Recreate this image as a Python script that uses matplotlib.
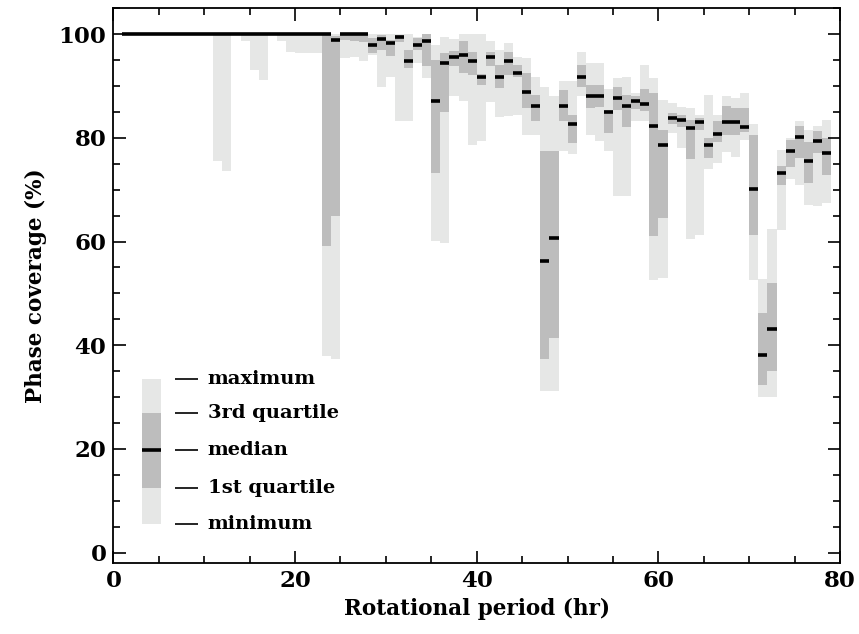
import matplotlib
matplotlib.use("Agg")
import matplotlib.pyplot as plt
from matplotlib.patches import Rectangle
from matplotlib.ticker import MultipleLocator
import numpy as np

# rotational period bins (hr), left edges, width 1 hr
period = np.arange(1, 79)

# phase coverage statistics per bin (%)
p_min = [100, 100, 100, 100, 100, 100, 100, 100, 100, 100,
         75.6, 73.7, 100, 98.7, 93.0, 91.1, 100, 98.7, 96.6, 96.4,
         96.4, 96.4, 37.9, 37.3, 95.4, 95.6, 94.9, 96.0, 89.9, 91.8,
         83.2, 83.3, 94.4, 91.5, 60.1, 59.7, 88.0, 87.2, 78.7, 79.3,
         87.0, 84.0, 84.3, 84.5, 80.5, 80.5, 31.2, 31.2, 77.4, 76.8,
         88.0, 80.5, 79.3, 77.4, 68.7, 68.7, 83.2, 83.2, 52.5, 53.0,
         80.9, 78.0, 60.4, 61.3, 73.9, 75.1, 77.2, 76.4, 79.6, 52.5,
         30.0, 30.0, 62.3, 72.0, 71.0, 67.1, 66.8, 67.4]
p_q1 = [100, 100, 100, 100, 100, 100, 100, 100, 100, 100,
        100, 100, 100, 100, 100, 100, 100, 100, 100, 100,
        100, 100, 59.2, 64.9, 98.8, 98.6, 98.5, 96.3, 97.0, 95.7,
        98.5, 93.5, 97.0, 93.8, 73.2, 85.0, 93.8, 92.5, 92.1, 90.2,
        93.8, 89.6, 92.1, 91.8, 85.8, 83.2, 37.3, 41.4, 83.2, 79.0,
        89.9, 85.7, 86.0, 81.0, 85.4, 82.0, 85.5, 85.1, 61.1, 64.6,
        82.7, 82.0, 75.9, 81.5, 76.2, 79.2, 80.5, 80.6, 81.2, 61.2,
        32.3, 35.0, 71.0, 74.3, 76.1, 71.3, 77.0, 72.9]
p_med = [100, 100, 100, 100, 100, 100, 100, 100, 100, 100,
         100, 100, 100, 100, 100, 100, 100, 100, 100, 100,
         100, 100, 100, 98.9, 100, 100, 100, 97.9, 99.0, 98.3,
         99.4, 94.9, 98.0, 98.7, 87.2, 94.4, 95.6, 96.0, 94.9, 91.7,
         95.6, 91.7, 94.9, 92.6, 88.8, 86.1, 56.2, 60.7, 86.1, 82.7,
         91.8, 88.0, 88.0, 85.0, 87.7, 86.2, 87.2, 86.5, 82.3, 78.6,
         83.9, 83.4, 81.9, 83.0, 78.6, 80.8, 83.1, 83.1, 82.0, 70.2,
         38.2, 43.2, 73.2, 77.4, 80.1, 75.5, 79.3, 77.0]
p_q3 = [100, 100, 100, 100, 100, 100, 100, 100, 100, 100,
        100, 100, 100, 100, 100, 100, 100, 100, 100, 100,
        100, 100, 100, 99.6, 100, 100, 100, 99.2, 99.8, 98.9,
        99.8, 97.0, 99.2, 100, 95.0, 96.3, 96.7, 98.6, 96.6, 92.3,
        96.6, 94.1, 96.6, 94.1, 92.5, 88.3, 77.4, 77.4, 89.3, 84.5,
        94.1, 90.2, 90.2, 85.4, 89.9, 88.2, 88.0, 89.4, 88.6, 81.6,
        84.8, 84.5, 83.5, 83.8, 80.0, 83.3, 86.1, 85.7, 85.7, 80.6,
        46.3, 52.0, 74.5, 79.6, 82.2, 79.2, 81.3, 80.0]
p_max = [100, 100, 100, 100, 100, 100, 100, 100, 100, 100,
         100, 100, 100, 100, 100, 100, 100, 100, 100, 100,
         100, 100, 100, 100, 100, 100, 100, 100, 100, 100,
         100, 100, 99.5, 100, 98.0, 99.5, 99.0, 100, 100, 100,
         98.6, 97.0, 98.3, 95.5, 95.4, 91.8, 89.9, 88.0, 90.9, 90.9,
         96.6, 94.4, 94.4, 89.5, 91.5, 91.8, 88.6, 94.1, 91.5, 87.3,
         86.7, 86.0, 85.7, 84.5, 88.3, 84.5, 88.0, 87.7, 88.6, 82.7,
         52.7, 62.5, 77.7, 80.0, 83.2, 81.6, 82.2, 83.5]

legend_labels = ["maximum", "3rd quartile", "median", "1st quartile", "minimum"]

light = "#e6e7e6"
dark = "#bdbdbd"

p_min = np.array(p_min); p_q1 = np.array(p_q1); p_med = np.array(p_med)
p_q3 = np.array(p_q3); p_max = np.array(p_max)

plt.rcParams['font.family'] = 'DejaVu Serif'
plt.rcParams['font.weight'] = 'bold'
plt.rcParams['axes.labelweight'] = 'bold'
fig = plt.figure(figsize=(8.59, 6.34), dpi=100)
ax = fig.add_axes([0.132, 0.112, 0.846, 0.875])

ax.bar(period, p_max - p_min, bottom=p_min, width=1, align='edge',
       color=light, linewidth=0)
ax.bar(period, p_q3 - p_q1, bottom=p_q1, width=1, align='edge',
       color=dark, linewidth=0)
ax.hlines(p_med, period, period + 1, color='k', linewidth=2.6)

# legend drawn by hand (axes fraction)
lx, lw = 0.039, 0.026
levels = [0.331, 0.271, 0.2037, 0.1355, 0.071]
ax.add_patch(Rectangle((lx, levels[4]), lw, levels[0] - levels[4],
                       transform=ax.transAxes, color=light, lw=0))
ax.add_patch(Rectangle((lx, levels[3]), lw, levels[1] - levels[3],
                       transform=ax.transAxes, color=dark, lw=0))
ax.plot([lx, lx + lw], [levels[2], levels[2]], color='k', lw=2.6,
        transform=ax.transAxes, solid_capstyle='butt')
for lev, lab in zip(levels, legend_labels):
    ax.plot([0.085, 0.117], [lev, lev], color='k', lw=1.2,
            transform=ax.transAxes, solid_capstyle='butt')
    ax.text(0.13, lev, lab, transform=ax.transAxes, va='center', ha='left',
            fontsize=14)

ax.set_xlim(0, 80)
ax.set_ylim(-2, 105)
ax.xaxis.set_major_locator(MultipleLocator(20))
ax.xaxis.set_minor_locator(MultipleLocator(5))
ax.yaxis.set_major_locator(MultipleLocator(20))
ax.yaxis.set_minor_locator(MultipleLocator(5))
ax.tick_params(which='both', direction='in', top=True, right=True,
               labelsize=16.5, width=1.2, pad=5)
ax.tick_params(which='major', length=9)
ax.tick_params(which='minor', length=5)
for s in ax.spines.values():
    s.set_linewidth(1.3)

ax.set_xlabel("Rotational period (hr)", fontsize=15.5, labelpad=4)
ax.set_ylabel("Phase coverage (%)", fontsize=15.5, labelpad=8)

fig.savefig("out.png", dpi=100)
